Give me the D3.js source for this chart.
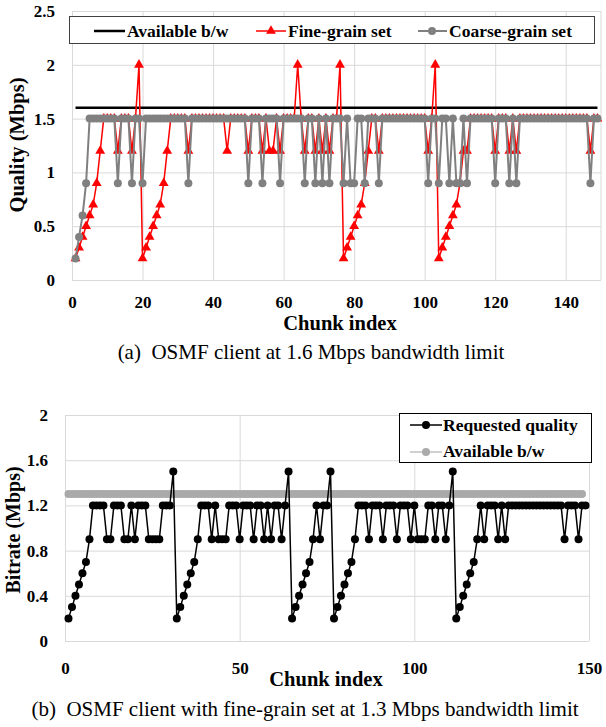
<!DOCTYPE html>
<html>
<head>
<meta charset="utf-8">
<script src="https://d3js.org/d3.v7.min.js"></script>
<style>
  body { margin: 0; background: #fff; }
  text { font-family: "Liberation Serif", "Times New Roman", serif; }
</style>
</head>
<body>
<div id="chart"></div>
<script>
// ---- data: (a) 1.6 Mbps limit, chunk 1..149
var fineGrain = [
  0.2,0.3,0.4,0.5,0.6,0.7,0.9,1.2,1.5,1.5,
  1.5,1.5,1.2,1.5,1.5,1.5,1.2,1.5,2.0,0.2,
  0.3,0.4,0.5,0.6,0.7,0.9,1.2,1.5,1.5,1.5,
  1.5,1.5,1.2,1.5,1.5,1.5,1.5,1.5,1.5,1.5,
  1.5,1.5,1.5,1.2,1.5,1.5,1.5,1.5,1.5,1.2,
  1.5,1.5,1.5,1.2,1.5,1.2,1.2,1.5,1.2,1.5,
  1.5,1.5,1.5,2.0,1.5,1.2,1.5,1.5,1.2,1.5,
  1.2,1.5,1.2,1.5,1.5,2.0,0.2,0.3,0.4,0.5,
  0.6,0.7,0.9,1.2,1.5,1.5,1.2,1.5,1.5,1.5,
  1.5,1.5,1.5,1.5,1.5,1.5,1.5,1.5,1.5,1.5,
  1.2,1.5,2.0,0.2,0.3,0.4,0.5,0.6,0.7,0.9,
  1.2,1.2,1.5,1.5,1.5,1.5,1.5,1.5,1.5,1.2,
  1.5,1.5,1.5,1.2,1.5,1.2,1.5,1.5,1.5,1.5,
  1.5,1.5,1.5,1.5,1.5,1.5,1.5,1.5,1.5,1.5,
  1.5,1.5,1.5,1.5,1.5,1.5,1.2,1.5,1.5
];
var coarseGrain = [
  0.2,0.4,0.6,0.9,1.5,1.5,1.5,1.5,1.5,1.5,
  1.5,1.5,0.9,1.5,1.5,1.5,0.9,1.5,1.5,0.9,
  1.5,1.5,1.5,1.5,1.5,1.5,1.5,1.5,1.5,1.5,
  1.5,1.5,0.9,1.5,1.5,1.5,1.5,1.5,1.5,1.5,
  1.5,1.5,1.5,1.5,1.5,1.5,1.5,1.5,1.5,0.9,
  1.5,1.5,1.5,0.9,1.5,1.5,1.5,1.5,0.9,1.5,
  1.5,1.5,1.5,1.5,1.5,0.9,1.5,1.5,0.9,1.5,
  0.9,1.5,0.9,1.5,1.5,1.5,0.9,1.5,0.9,0.9,
  1.5,1.5,0.9,1.5,1.5,1.5,0.9,1.5,1.5,1.5,
  1.5,1.5,1.5,1.5,1.5,1.5,1.5,1.5,1.5,1.5,
  0.9,1.5,1.5,0.9,1.5,1.5,0.9,1.5,0.9,0.9,
  1.5,0.9,1.5,1.5,1.5,1.5,1.5,1.5,1.5,0.9,
  1.5,1.5,1.5,0.9,1.5,0.9,1.5,1.5,1.5,1.5,
  1.5,1.5,1.5,1.5,1.5,1.5,1.5,1.5,1.5,1.5,
  1.5,1.5,1.5,1.5,1.5,1.5,0.9,1.5,1.5
];
var bwTop = 1.6;
var bwTopChunks = [1, 149];

// ---- data: (b) 1.3 Mbps limit, chunk 1..149
var requested = [
  0.2,0.3,0.4,0.5,0.6,0.7,0.9,1.2,1.2,1.2,
  1.2,0.9,0.9,1.2,1.2,1.2,0.9,0.9,1.2,0.9,
  1.2,1.2,1.2,0.9,0.9,0.9,0.9,1.2,1.2,1.2,
  1.5,0.2,0.3,0.4,0.5,0.6,0.7,0.9,1.2,1.2,
  1.2,0.9,1.2,0.9,0.9,0.9,1.2,1.2,1.2,0.9,
  1.2,1.2,1.2,0.9,1.2,1.2,0.9,1.2,0.9,1.2,
  1.2,0.9,1.2,1.5,0.2,0.3,0.4,0.5,0.6,0.7,
  0.9,1.2,0.9,1.2,1.2,1.5,0.2,0.3,0.4,0.5,
  0.6,0.7,0.9,1.2,1.2,1.2,0.9,1.2,1.2,1.2,
  0.9,1.2,1.2,1.2,0.9,1.2,1.2,1.2,0.9,1.2,
  0.9,0.9,0.9,1.2,1.2,0.9,1.2,1.2,0.9,1.2,
  1.5,0.2,0.3,0.4,0.5,0.6,0.7,0.9,1.2,0.9,
  1.2,1.2,1.2,0.9,1.2,0.9,1.2,1.2,1.2,1.2,
  1.2,1.2,1.2,1.2,1.2,1.2,1.2,1.2,1.2,1.2,
  1.2,1.2,0.9,1.2,1.2,1.2,0.9,1.2,1.2
];
var bwBottom = 1.3;
var bwBottomCount = 148;

var topYTicks = [0, 0.5, 1, 1.5, 2, 2.5];
var topXTicks = [0, 20, 40, 60, 80, 100, 120, 140];
var botYTicks = [0, 0.4, 0.8, 1.2, 1.6, 2];
var botXTicks = [0, 50, 100, 150];

var svgWidth = 606;
var svgHeight = 727;

var svg = d3.select("#chart")
  .append("svg")
  .attr("width", svgWidth)
  .attr("height", svgHeight);

var gridColor = "#d9d9d9";
var bold = "bold";
var numFmt = d3.format("~g");

// =================== panel (a) ===================
var m1 = { top: 11, left: 72 };
var w1 = 529, h1 = 269;

var panelA = svg.append("g")
  .attr("transform", `translate(${m1.left}, ${m1.top})`);

var x1 = d3.scaleLinear().domain([0, 150]).range([0, w1]);
var y1 = d3.scaleLinear().domain([0, 2.5]).range([h1, 0]);

// grid
panelA.append("g")
  .call(d3.axisLeft(y1).tickValues(topYTicks).tickSize(-w1).tickFormat(""))
  .call(g => g.select(".domain").remove())
  .selectAll("line").attr("stroke", gridColor);
panelA.append("g")
  .attr("transform", `translate(0, ${h1})`)
  .call(d3.axisBottom(x1).tickValues(topXTicks).tickSize(-h1).tickFormat(""))
  .call(g => g.select(".domain").remove())
  .selectAll("line").attr("stroke", gridColor);
panelA.append("line")
  .attr("x1", x1(150)).attr("x2", x1(150))
  .attr("y1", 0).attr("y2", h1)
  .attr("stroke", gridColor);

// tick labels
panelA.append("g")
  .call(d3.axisLeft(y1).tickValues(topYTicks).tickSize(0).tickPadding(17).tickFormat(numFmt))
  .call(g => g.select(".domain").remove())
  .selectAll("text")
  .attr("font-family", "Liberation Serif")
  .attr("font-size", 17).attr("font-weight", bold).attr("fill", "#000");
panelA.append("g")
  .attr("transform", `translate(0, ${h1})`)
  .call(d3.axisBottom(x1).tickValues(topXTicks).tickSize(0).tickPadding(16))
  .call(g => g.select(".domain").remove())
  .selectAll("text")
  .attr("font-family", "Liberation Serif")
  .attr("font-size", 17).attr("font-weight", bold).attr("fill", "#000");

// available b/w line
panelA.append("line")
  .attr("x1", x1(bwTopChunks[0])).attr("x2", x1(bwTopChunks[1]))
  .attr("y1", y1(bwTop)).attr("y2", y1(bwTop))
  .attr("stroke", "#000").attr("stroke-width", 2.5);

var line1 = d3.line()
  .x((d, i) => x1(i + 1))
  .y(d => y1(d));

var tri = d3.symbol().type(d3.symbolTriangle).size(42);

// fine grain
panelA.append("path")
  .datum(fineGrain)
  .attr("d", line1)
  .attr("fill", "none").attr("stroke", "#ff0000").attr("stroke-width", 1.5);
panelA.selectAll(".tri")
  .data(fineGrain)
  .enter()
  .append("path")
  .attr("class", "tri")
  .attr("transform", (d, i) => `translate(${x1(i + 1)}, ${y1(d)})`)
  .attr("d", tri)
  .attr("fill", "#ff0000");

// coarse grain
panelA.append("path")
  .datum(coarseGrain)
  .attr("d", line1)
  .attr("fill", "none").attr("stroke", "#808080").attr("stroke-width", 2);
panelA.selectAll(".dot")
  .data(coarseGrain)
  .enter()
  .append("circle")
  .attr("class", "dot")
  .attr("cx", (d, i) => x1(i + 1))
  .attr("cy", d => y1(d))
  .attr("r", 4)
  .attr("fill", "#808080");

// legend (a)
var leg1 = svg.append("g");
leg1.append("rect")
  .attr("x", 69.5).attr("y", 16.5).attr("width", 525).attr("height", 27)
  .attr("fill", "#fff").attr("stroke", "#404040").attr("stroke-width", 1);
leg1.append("line")
  .attr("x1", 94).attr("x2", 125).attr("y1", 31).attr("y2", 31)
  .attr("stroke", "#000").attr("stroke-width", 2.5);
leg1.append("text").attr("x", 127).attr("y", 37)
  .attr("font-size", 17.5).attr("font-weight", bold).text("Available b/w");
leg1.append("line")
  .attr("x1", 256).attr("x2", 286).attr("y1", 31).attr("y2", 31)
  .attr("stroke", "#ff0000").attr("stroke-width", 1.5);
leg1.append("path")
  .attr("transform", "translate(271, 31)")
  .attr("d", tri).attr("fill", "#ff0000");
leg1.append("text").attr("x", 288).attr("y", 37)
  .attr("font-size", 17.5).attr("font-weight", bold).text("Fine-grain set");
leg1.append("line")
  .attr("x1", 418).attr("x2", 447).attr("y1", 31).attr("y2", 31)
  .attr("stroke", "#808080").attr("stroke-width", 2);
leg1.append("circle")
  .attr("cx", 432).attr("cy", 31).attr("r", 4).attr("fill", "#808080");
leg1.append("text").attr("x", 449).attr("y", 37)
  .attr("font-size", 17.5).attr("font-weight", bold).text("Coarse-grain set");

// axis titles (a)
svg.append("text")
  .attr("transform", "translate(24, 145) rotate(-90)")
  .attr("text-anchor", "middle")
  .attr("font-size", 20.5).attr("font-weight", bold)
  .text("Quality (Mbps)");
svg.append("text")
  .attr("x", 340).attr("y", 330)
  .attr("text-anchor", "middle")
  .attr("font-size", 20.5).attr("font-weight", bold)
  .text("Chunk index");
svg.append("text")
  .attr("x", 311).attr("y", 359)
  .attr("text-anchor", "middle")
  .attr("font-size", 21)
  .attr("xml:space", "preserve")
  .text("(a)  OSMF client at 1.6 Mbps bandwidth limit");

// =================== panel (b) ===================
var m2 = { top: 415, left: 65 };
var w2 = 524, h2 = 226;

var panelB = svg.append("g")
  .attr("transform", `translate(${m2.left}, ${m2.top})`);

var x2 = d3.scaleLinear().domain([0, 150]).range([0, w2]);
var y2 = d3.scaleLinear().domain([0, 2]).range([h2, 0]);

panelB.append("g")
  .call(d3.axisLeft(y2).tickValues(botYTicks).tickSize(-w2).tickFormat(""))
  .call(g => g.select(".domain").remove())
  .selectAll("line").attr("stroke", gridColor);
panelB.append("g")
  .attr("transform", `translate(0, ${h2})`)
  .call(d3.axisBottom(x2).tickValues(botXTicks).tickSize(-h2).tickFormat(""))
  .call(g => g.select(".domain").remove())
  .selectAll("line").attr("stroke", gridColor);

panelB.append("g")
  .call(d3.axisLeft(y2).tickValues(botYTicks).tickSize(0).tickPadding(17).tickFormat(numFmt))
  .call(g => g.select(".domain").remove())
  .selectAll("text")
  .attr("font-family", "Liberation Serif")
  .attr("font-size", 17).attr("font-weight", bold).attr("fill", "#000");
panelB.append("g")
  .attr("transform", `translate(0, ${h2})`)
  .call(d3.axisBottom(x2).tickValues(botXTicks).tickSize(0).tickPadding(21))
  .call(g => g.select(".domain").remove())
  .selectAll("text")
  .attr("font-family", "Liberation Serif")
  .attr("font-size", 17).attr("font-weight", bold).attr("fill", "#000");

// available b/w as markers
var bwData = d3.range(1, bwBottomCount + 1).map(d => bwBottom);
panelB.append("line")
  .attr("x1", x2(1)).attr("x2", x2(bwBottomCount))
  .attr("y1", y2(bwBottom)).attr("y2", y2(bwBottom))
  .attr("stroke", "#aaaaaa").attr("stroke-width", 3);
panelB.selectAll(".bw")
  .data(bwData)
  .enter()
  .append("circle")
  .attr("class", "bw")
  .attr("cx", (d, i) => x2(i + 1))
  .attr("cy", d => y2(d))
  .attr("r", 4)
  .attr("fill", "#aaaaaa");

var line2 = d3.line()
  .x((d, i) => x2(i + 1))
  .y(d => y2(d));

panelB.append("path")
  .datum(requested)
  .attr("d", line2)
  .attr("fill", "none").attr("stroke", "#000").attr("stroke-width", 1.5);
panelB.selectAll(".req")
  .data(requested)
  .enter()
  .append("circle")
  .attr("class", "req")
  .attr("cx", (d, i) => x2(i + 1))
  .attr("cy", d => y2(d))
  .attr("r", 4)
  .attr("fill", "#000");

// legend (b)
var leg2 = svg.append("g");
leg2.append("rect")
  .attr("x", 399.5).attr("y", 413.5).attr("width", 192).attr("height", 49)
  .attr("fill", "#fff").attr("stroke", "#000").attr("stroke-width", 1);
leg2.append("line")
  .attr("x1", 410).attr("x2", 442).attr("y1", 425).attr("y2", 425)
  .attr("stroke", "#000").attr("stroke-width", 1.5);
leg2.append("circle").attr("cx", 426).attr("cy", 425).attr("r", 4).attr("fill", "#000");
leg2.append("text").attr("x", 443).attr("y", 431)
  .attr("font-size", 17.5).attr("font-weight", bold).text("Requested quality");
leg2.append("line")
  .attr("x1", 410).attr("x2", 442).attr("y1", 452).attr("y2", 452)
  .attr("stroke", "#d0d0d0").attr("stroke-width", 2);
leg2.append("circle").attr("cx", 426).attr("cy", 452).attr("r", 4).attr("fill", "#aaaaaa");
leg2.append("text").attr("x", 443).attr("y", 457)
  .attr("font-size", 17.5).attr("font-weight", bold).text("Available b/w");

// axis titles (b)
svg.append("text")
  .attr("transform", "translate(20, 530) rotate(-90)")
  .attr("text-anchor", "middle")
  .attr("font-size", 20).attr("font-weight", bold)
  .text("Bitrate (Mbps)");
svg.append("text")
  .attr("x", 326).attr("y", 686)
  .attr("text-anchor", "middle")
  .attr("font-size", 20.5).attr("font-weight", bold)
  .text("Chunk index");
svg.append("text")
  .attr("x", 305).attr("y", 716)
  .attr("text-anchor", "middle")
  .attr("font-size", 21)
  .attr("xml:space", "preserve")
  .text("(b)  OSMF client with fine-grain set at 1.3 Mbps bandwidth limit");
</script>
</body>
</html>
